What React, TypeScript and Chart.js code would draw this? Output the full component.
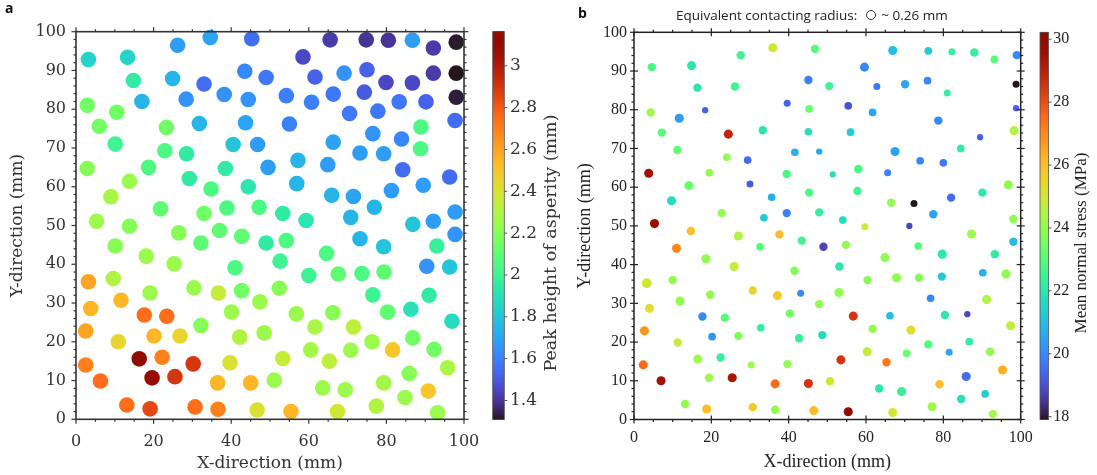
import React, { useEffect, useRef } from "react";
import { Chart, registerables } from "chart.js";
Chart.register(...registerables);

// ---------- axis ticks ----------
const xTickValues = [0, 20, 40, 60, 80, 100];
const yTickValues = [0, 10, 20, 30, 40, 50, 60, 70, 80, 90, 100];
const heightTickValues = [1.4, 1.6, 1.8, 2, 2.2, 2.4, 2.6, 2.8, 3];
const stressTickValues = [18, 20, 22, 24, 26, 28, 30];
const heightRange = [1.31, 3.163];
const stressRange = [17.91, 30.22];

// ---------- panel a: peak height of asperity ----------
const leftX = [
  3.2, 13.3, 26.2, 34.6, 45.3, 14.8, 24.9, 33, 43.5, 49, 17, 28.4, 38.2, 44.4, 2.9, 10.5, 6, 23.3, 31.8, 43.7,
  10.1, 22.9, 28.5, 40.5, 46.8, 49.5, 2.9, 18.7, 38.5, 13.8, 29.2, 44.4, 9, 34.8, 21.8, 33, 38.9, 47.2, 5.3, 13.8,
  26.5, 37, 42.7, 32.2, 49, 10.1, 18.1, 25.3, 41, 3.2, 9.6, 30.4, 36.7, 42.7, 47.4, 3.8, 11.6, 19.1, 40.1, 17.6,
  23.4, 32.2, 2.5, 10.9, 20.1, 26.8, 42.2, 48.5, 16.3, 22.2, 30.2, 39.7, 2.5, 19.6, 25.5, 6.3, 36.5, 45, 13.1, 19.1,
  30.7, 36.6, 46.7,
  65.5, 74.8, 80.5, 86.7, 92.1, 98, 58.5, 61.6, 69.1, 75, 79.9, 86.7, 92.1, 98, 54.2, 60.7, 66.3, 74.3, 83.3, 90.2,
  98, 70.5, 77.8, 55, 88.9, 97.7, 66.3, 76.5, 83.9, 88.8, 73.2, 79.3, 57.2, 64.9, 84.2, 96.3, 56.9, 89.5, 65.9, 71.5,
  81.3, 53.3, 59.3, 76.9, 70.8, 86.8, 92.1, 97.7, 97.7,
  54.2, 73.2, 79.3, 93, 64.6, 52.6, 90.4, 96.3, 60, 67.6, 73.7, 79.4, 52.4, 76.5, 91, 80.3, 86.3, 96.9, 56.8, 66.2,
  61.6, 71.5, 76.3, 81.6, 86.8, 92.3, 53.3, 60.5, 65.3, 70.8, 95.8, 51.1, 63.6, 69.4, 79.3, 85.9, 90.8, 84.8, 55.4, 67.4,
  77.4, 93.2,
];
const leftY = [
  92.8, 93.4, 96.5, 98.5, 98.2, 87.4, 87.9, 86.5, 89.8, 88.2, 82, 82.6, 83.8, 82.5, 81, 79.2, 75.6, 75.3, 76.3, 76.5,
  71, 69.3, 68.5, 70.9, 70.9, 65, 64.7, 65, 64.7, 61.4, 62.1, 60, 57.4, 59.4, 54.3, 53.1, 54.5, 54.7, 51.1, 49.8,
  48.1, 48.7, 47.2, 45.5, 45.5, 44.7, 42.1, 40.1, 39.1, 35.5, 36.3, 33.9, 32.6, 33.2, 30.3, 28.6, 30.7, 32.6, 27.7, 26.9,
  26.6, 24.2, 22.8, 20, 21.5, 21.5, 21.2, 22.3, 15.6, 16, 14.3, 14.6, 14, 10.7, 11, 9.9, 9.4, 9.4, 3.7, 2.7,
  3.2, 2.6, 2.4,
  97.9, 97.9, 97.8, 97.8, 95.8, 97.3, 93.5, 88.3, 89.3, 90.2, 86.9, 86.8, 89.3, 89.3, 83.5, 81.8, 83.9, 84.4, 81.9, 81.9,
  83.1, 78.9, 79.5, 76.2, 75.4, 77.1, 71.5, 73.7, 72.3, 69.8, 68.7, 68.5, 66.8, 65.7, 64.4, 62.5, 60.8, 60.4, 57.8, 57.5,
  59, 53.1, 51.3, 54.7, 52.1, 50.3, 51.1, 53.5, 47.7,
  46.1, 46.6, 44.5, 44.7, 42.8, 40.8, 39.5, 39.3, 37.1, 37.5, 37.6, 38, 33.8, 32.1, 32, 27.7, 28.4, 25.3, 27.2, 27.5,
  23.8, 23.8, 20, 17.9, 21, 18, 15.7, 17.9, 15, 17.8, 13.3, 10.1, 8.1, 7.6, 9.4, 11.8, 7.3, 5.6, 2, 2,
  3.4, 1.7,
];
const leftHeight = [
  1.85, 1.85, 1.68, 1.7, 1.55, 1.95, 1.75, 1.55, 1.62, 1.58, 1.75, 1.65, 1.65, 1.65, 2.15, 2.15, 2.15, 2.15, 1.75, 1.7,
  2.0, 2.05, 1.95, 1.8, 1.68, 1.68, 2.2, 2.05, 1.95, 2.25, 1.95, 1.92, 2.28, 2.05, 2.1, 2.15, 2.05, 2.05, 2.25, 2.2,
  2.2, 2.1, 2.1, 2.1, 1.95, 2.2, 2.25, 2.25, 2.05, 2.6, 2.3, 2.25, 2.35, 2.15, 2.25, 2.55, 2.55, 2.25, 2.25, 2.75,
  2.75, 2.2, 2.6, 2.45, 2.55, 2.45, 2.3, 2.25, 3.15, 2.7, 2.9, 2.4, 2.7, 3.1, 2.9, 2.75, 2.55, 2.55, 2.75, 2.85,
  2.75, 2.7, 2.4,
  1.42, 1.4, 1.4, 1.68, 1.42, 1.32, 1.45, 1.52, 1.65, 1.52, 1.45, 1.45, 1.42, 1.3, 1.6, 1.6, 1.58, 1.5, 1.58, 1.52,
  1.33, 1.58, 1.58, 1.6, 2.05, 1.55, 1.7, 1.65, 1.62, 2.05, 1.68, 1.68, 1.75, 1.68, 1.55, 1.55, 1.75, 1.68, 1.75, 1.7,
  1.68, 1.95, 1.92, 1.75, 1.75, 1.8, 1.68, 1.68, 1.65,
  2.05, 1.75, 1.8, 1.98, 2.05, 2.0, 1.65, 1.8, 2.0, 2.1, 2.05, 2.1, 2.2, 2.0, 1.95, 2.1, 1.9, 1.88, 2.25, 2.2,
  2.28, 2.33, 2.25, 2.5, 2.15, 2.15, 2.35, 2.27, 2.33, 2.25, 2.28, 2.25, 2.25, 2.25, 2.27, 2.2, 2.5, 2.25, 2.55, 2.38,
  2.3, 2.25,
];

// ---------- panel b: mean normal stress ----------
const rightX = [
  35.9, 46.8, 27.6, 4.6, 14.9, 16.4, 26.1, 45.1, 50.5, 39.6, 45.3, 4.3, 11.7, 18.4, 7.2, 24.4, 33.3, 45.1, 11.2, 24,
  29.4, 41.6, 47.9, 3.8, 19.5, 39.5, 30, 14.2, 45.3, 9.7, 35.6, 22.7, 33.6, 39.5, 47.9, 5.3,
  66.9, 76.1, 82.2, 88, 93.2, 99, 59.6, 62.8, 70.1, 75.9, 81, 98.8, 55.4, 61.7, 98.8, 78.7, 56, 98.3, 89.5, 67.5,
  84.5, 74, 80, 51.4, 58, 65.6, 57.8, 66.5, 72.4, 82, 90.1, 96.8, 54, 59.7, 71.2, 77.4, 98.1,
  14.7, 27, 37.6, 43.4, 32.6, 49, 11, 18.6, 25.9, 41.5, 3.3, 10, 30.7, 37.1, 43.1, 11.9, 19.7, 47.9, 4, 40.3,
  17.7, 23.5, 32.8, 2.7, 11.3, 20.2, 27, 42.7, 48.7, 16.5, 22.4, 30.3, 39.7, 2.4, 7, 19.4, 25.4, 36.5, 45.1, 50.7,
  13.2, 18.8, 30.7, 36.5, 46.5,
  87.3, 98.1, 54.8, 73.5, 79.7, 93.3, 64.9, 53.1, 60.4, 67.9, 73.7, 79.6, 90.2, 96.2, 53, 76.7, 91.2, 56.7, 66.2, 80.4,
  86.2, 97.4, 61.7, 71.6, 76.1, 81.5, 86.7, 92.1, 60.3, 70.5, 53.5, 65.3, 85.9, 95.3, 63.4, 69.2, 79, 84.6, 90.8, 55.4,
  66.9, 77.1, 92.8,
];
const rightY = [
  96, 95.7, 94.1, 91, 91.4, 85.7, 86, 87.7, 86.1, 81.7, 80.2, 79.3, 77.8, 79.9, 74.1, 73.7, 74.7, 74.3, 69.6, 67.7,
  67, 69, 69.2, 63.6, 63.7, 63.4, 60.8, 60.4, 58.6, 56.5, 57.4, 53.3, 52.1, 53.3, 53.5, 50.6,
  95.3, 95.2, 95, 94.8, 93, 94.1, 91, 86, 86.6, 87.5, 84.3, 86.6, 81, 79.3, 80.4, 77.2, 74.2, 74.6, 72.9, 69.2,
  70, 66.8, 66.3, 63.3, 64.7, 63.7, 59, 56, 55.8, 57.3, 58.6, 60.6, 51.5, 49.8, 50, 53, 51.8,
  48.7, 47.4, 47.8, 46.2, 44.6, 44.6, 44.2, 41.5, 39.5, 38.4, 35.2, 36, 33.3, 32, 32.6, 30.6, 32.2, 29.8, 28.7, 27.4,
  26.6, 26.3, 23.7, 22.9, 19.9, 21.4, 21.6, 21, 21.8, 15.6, 16, 14.1, 14.3, 14.1, 10, 10.8, 10.8, 9.2, 9.3, 9.9,
  4, 2.7, 3.2, 2.5, 2.3,
  47.9, 45.9, 45.1, 44.8, 42.7, 42.7, 41.8, 39.5, 36, 36.6, 36.6, 36.9, 37.9, 37.6, 32.8, 31.3, 31, 26.7, 26.8, 27,
  27.2, 24.2, 23.4, 23.1, 19.4, 17.4, 20.1, 17.5, 17.5, 17.1, 15.4, 14.8, 11.1, 12.8, 8, 7.2, 9.1, 5.3, 6.6, 2,
  1.8, 3.3, 1.4,
];
const rightStress = [
  25, 23, 22.5, 22.8, 22, 22, 22.5, 19.8, 22.5, 19.3, 23.3, 24.3, 20.3, 19.3, 23, 28.8, 22, 21.8, 23.2, 24,
  19.5, 20.8, 20.5, 29.5, 24, 22.8, 19.2, 23.3, 22.8, 21.7, 20.6, 24, 21.3, 19.8, 22.3, 29.6,
  21, 21.3, 22.3, 22.3, 23, 20, 20, 19.7, 20.5, 20, 22.3, 17.8, 19, 20.5, 19.3, 20, 21.3, 24.5, 19.3, 20.5,
  22.2, 20, 19.7, 21.8, 22.8, 19.8, 22.6, 24, 17.8, 19.5, 22, 24, 21.7, 25, 18.8, 20.5, 24,
  26, 24.5, 26, 22.5, 23, 18.8, 27, 24, 24.8, 23.8, 25, 24, 25.5, 25.7, 20, 24, 24, 24, 25.3, 23.5,
  20, 23, 22.3, 26.8, 24.8, 20.2, 23.8, 22.3, 21.7, 24.2, 22.3, 24.2, 24, 27.5, 29.5, 24.2, 29.3, 27.5, 28.5, 25,
  24, 26, 25.7, 24, 26,
  24.2, 21, 24, 23, 22, 22.2, 24, 22, 23.8, 24, 23.8, 21.3, 20.7, 24, 24, 20, 24.5, 28.5, 21, 22,
  18.8, 24.8, 24, 25.3, 23, 20.5, 22.3, 24, 24.8, 23.3, 28.5, 27.3, 19.5, 26.3, 22, 22.3, 26, 21.8, 21.3, 30,
  25, 24.2, 24.3,
];
// equivalent contacting radius (mm)
const rightRadius = [
  0.26, 0.24, 0.24, 0.24, 0.26, 0.24, 0.24, 0.24, 0.24, 0.2, 0.22, 0.24, 0.26, 0.18, 0.24, 0.26, 0.24, 0.22, 0.24, 0.22,
  0.22, 0.22, 0.18, 0.26, 0.22, 0.24, 0.2, 0.26, 0.24, 0.26, 0.22, 0.24, 0.22, 0.24, 0.24, 0.26,
  0.26, 0.22, 0.2, 0.24, 0.22, 0.24, 0.26, 0.2, 0.24, 0.22, 0.2, 0.2, 0.22, 0.22, 0.18, 0.24, 0.22, 0.26, 0.18, 0.26,
  0.22, 0.22, 0.22, 0.18, 0.24, 0.2, 0.24, 0.24, 0.2, 0.24, 0.24, 0.26, 0.22, 0.2, 0.18, 0.24, 0.24,
  0.24, 0.26, 0.24, 0.24, 0.22, 0.24, 0.26, 0.26, 0.26, 0.24, 0.28, 0.24, 0.24, 0.26, 0.2, 0.26, 0.24, 0.24, 0.26, 0.24,
  0.24, 0.24, 0.22, 0.26, 0.24, 0.22, 0.24, 0.24, 0.24, 0.26, 0.24, 0.2, 0.24, 0.26, 0.26, 0.24, 0.26, 0.26, 0.26, 0.24,
  0.24, 0.26, 0.24, 0.24, 0.26,
  0.26, 0.24, 0.24, 0.22, 0.26, 0.24, 0.26, 0.24, 0.24, 0.26, 0.24, 0.24, 0.22, 0.26, 0.26, 0.22, 0.26, 0.26, 0.22, 0.24,
  0.18, 0.26, 0.24, 0.26, 0.24, 0.2, 0.22, 0.24, 0.26, 0.22, 0.26, 0.24, 0.26, 0.26, 0.24, 0.26, 0.24, 0.24, 0.22, 0.26,
  0.26, 0.26, 0.24,
];

// ---------- colormap (turbo) ----------
function turbo(t: number): string {
  const x = Math.min(1, Math.max(0, t));
  const r = 0.13572138 + x * (4.6153926 + x * (-42.66032258 + x * (132.13108234 + x * (-152.94239396 + x * 59.28637943))));
  const g = 0.09140261 + x * (2.19418839 + x * (4.84296658 + x * (-14.18503333 + x * (4.27729857 + x * 2.82956604))));
  const b = 0.1066733 + x * (12.64194608 + x * (-60.58204836 + x * (110.36276771 + x * (-89.90310912 + x * 27.34824973))));
  const c = (v: number) => Math.round(255 * Math.min(1, Math.max(0, v)));
  return `rgb(${c(r)},${c(g)},${c(b)})`;
}

type Panel = {
  key: string;
  xs: number[];
  ys: number[];
  vals: number[];
  radii: number[];
  range: number[];
  cbTicks: number[];
  cbTitle: string;
  font: string;
  tickSize: number;
  titleSize: number;
  cbLabelSize: number;
  cbTitleSize: number;
  color: string;
  padLeft: number;
  padRight: number;
  padTop: number;
  yWidth: number;
  xHeight: number;
  cbWidth: number;
  xTickPad: number;
  yTickPad: number;
  cbTickPad: number;
  xTitlePad: number;
  yTitlePad: number;
  barOffset: number;
  barWidth: number;
  cbTitleX: number;
  cbTitleY: number;
  majorOut: number;
  majorIn: number;
  minorOut: number;
  axisWidth: number;
};

function decorPlugin(p: Panel) {
  return {
    id: "decor_" + p.key,
    afterDraw(chart: any) {
      const { ctx, chartArea: a, scales } = chart;
      const xs = scales.x;
      const ys = scales.y;
      const cb = scales.cb;
      ctx.save();
      ctx.strokeStyle = p.color;
      const line = (x1: number, y1: number, x2: number, y2: number) => {
        ctx.beginPath();
        ctx.moveTo(x1, y1);
        ctx.lineTo(x2, y2);
        ctx.stroke();
      };
      ctx.lineWidth = 1.2;
      for (let v = 0; v <= 100; v += 5) {
        const major = v % 20 === 0;
        const px = xs.getPixelForValue(v);
        const out = major ? p.majorOut : p.minorOut;
        const inn = major ? p.majorIn : 0;
        line(px, a.bottom - inn, px, a.bottom + out);
        line(px, a.top + inn, px, a.top - out);
      }
      for (let v = 0; v <= 100; v += 2) {
        const major = v % 10 === 0;
        const py = ys.getPixelForValue(v);
        const out = major ? p.majorOut : p.minorOut;
        const inn = major ? p.majorIn : 0;
        line(a.left + inn, py, a.left - out, py);
        line(a.right - inn, py, a.right + out, py);
      }
      ctx.lineWidth = p.axisWidth;
      ctx.strokeRect(a.left, a.top, a.right - a.left, a.bottom - a.top);

      // colour bar
      const bx = cb.left + p.barOffset;
      const bw = p.barWidth;
      const lo = p.range[0];
      const hi = p.range[1];
      for (let py = Math.floor(cb.top); py < Math.ceil(cb.bottom); py++) {
        const v = cb.getValueForPixel(py + 0.5);
        ctx.fillStyle = turbo((v - lo) / (hi - lo));
        ctx.fillRect(bx, py, bw, 1);
      }
      ctx.lineWidth = 0.8;
      ctx.strokeStyle = "#555";
      ctx.strokeRect(bx, cb.top, bw, cb.bottom - cb.top);
      ctx.lineWidth = 1;
      cb.ticks.forEach((t: any) => {
        const py = cb.getPixelForValue(t.value);
        line(bx + bw, py, bx + bw + 3, py);
      });

      ctx.translate(p.cbTitleX, p.cbTitleY);
      ctx.rotate(-Math.PI / 2);
      ctx.font = `${p.cbTitleSize}px ${p.font}`;
      ctx.fillStyle = p.color;
      ctx.textAlign = "center";
      ctx.textBaseline = "middle";
      ctx.fillText(p.cbTitle, 0, 0);
      ctx.restore();
    },
  };
}

const noPad = (s: any) => {
  s.paddingTop = 0;
  s.paddingBottom = 0;
};

function makeConfig(p: Panel): any {
  const lo = p.range[0];
  const hi = p.range[1];
  const fmt = (v: number) => String(Math.round(v * 10) / 10);
  return {
    type: "scatter",
    data: {
      datasets: [
        {
          data: p.xs.map((x, i) => ({ x, y: p.ys[i] })),
          backgroundColor: p.vals.map((v) => turbo((v - lo) / (hi - lo))),
          pointRadius: p.radii,
          pointHoverRadius: p.radii,
          borderWidth: 0,
          clip: false,
        },
      ],
    },
    options: {
      responsive: false,
      animation: false,
      events: [],
      layout: { padding: { left: p.padLeft, right: p.padRight, top: p.padTop, bottom: 0 } },
      plugins: { legend: { display: false }, tooltip: { enabled: false } },
      scales: {
        x: {
          type: "linear",
          position: "bottom",
          min: 0,
          max: 100,
          afterBuildTicks: (s: any) => {
            s.ticks = xTickValues.map((v) => ({ value: v }));
          },
          afterFit: (s: any) => {
            s.height = p.xHeight;
            s.paddingLeft = 0;
            s.paddingRight = 0;
          },
          grid: { display: false, drawTicks: false },
          border: { display: false },
          ticks: {
            padding: p.xTickPad,
            maxRotation: 0,
            autoSkip: false,
            color: p.color,
            font: { family: p.font, size: p.tickSize },
            callback: (v: any) => fmt(Number(v)),
          },
          title: {
            display: true,
            text: "X-direction (mm)",
            color: p.color,
            font: { family: p.font, size: p.titleSize },
            padding: { top: 0, bottom: p.xTitlePad },
          },
        },
        y: {
          type: "linear",
          position: "left",
          min: 0,
          max: 100,
          afterBuildTicks: (s: any) => {
            s.ticks = yTickValues.map((v) => ({ value: v }));
          },
          afterFit: (s: any) => {
            s.width = p.yWidth;
            noPad(s);
          },
          grid: { display: false, drawTicks: false },
          border: { display: false },
          ticks: {
            padding: p.yTickPad,
            autoSkip: false,
            color: p.color,
            font: { family: p.font, size: p.tickSize },
            callback: (v: any) => fmt(Number(v)),
          },
          title: {
            display: true,
            text: "Y-direction (mm)",
            color: p.color,
            font: { family: p.font, size: p.titleSize },
            padding: { top: p.yTitlePad, bottom: 0 },
          },
        },
        cb: {
          type: "linear",
          position: "right",
          min: lo,
          max: hi,
          afterBuildTicks: (s: any) => {
            s.ticks = p.cbTicks.map((v) => ({ value: v }));
          },
          afterFit: (s: any) => {
            s.width = p.cbWidth;
            noPad(s);
          },
          grid: { display: false, drawTicks: false },
          border: { display: false },
          ticks: {
            padding: p.cbTickPad,
            autoSkip: false,
            color: p.color,
            font: { family: p.font, size: p.cbLabelSize },
            callback: (v: any) => fmt(Number(v)),
          },
        },
      },
    },
    plugins: [decorPlugin(p)],
  };
}

const panelA: Panel = {
  key: "a",
  xs: leftX,
  ys: leftY,
  vals: leftHeight,
  radii: leftX.map(() => 7.8),
  range: heightRange,
  cbTicks: heightTickValues,
  cbTitle: "Peak height of asperity (mm)",
  font: "'DejaVu Serif', serif",
  tickSize: 16,
  titleSize: 17,
  cbLabelSize: 17,
  cbTitleSize: 17.5,
  color: "#333333",
  padLeft: 0,
  padRight: 1097 - 464 - 100,
  padTop: 31.7,
  yWidth: 76,
  xHeight: 475 - 419.3,
  cbWidth: 100,
  xTickPad: 13,
  yTickPad: 10,
  cbTickPad: 46,
  xTitlePad: 1.2,
  yTitlePad: 7,
  barOffset: 28.7,
  barWidth: 11.6,
  cbTitleX: 551,
  cbTitleY: 243,
  majorOut: 4.5,
  majorIn: 0,
  minorOut: 2.5,
  axisWidth: 1.6,
};

const panelB: Panel = {
  key: "b",
  xs: rightX,
  ys: rightY,
  vals: rightStress,
  radii: rightRadius.map((r) => r * 17.5),
  range: stressRange,
  cbTicks: stressTickValues,
  cbTitle: "Mean normal stress (MPa)",
  font: "'Liberation Serif', serif",
  tickSize: 16,
  titleSize: 18,
  cbLabelSize: 16,
  cbTitleSize: 17,
  color: "#222222",
  padLeft: 560,
  padRight: 0,
  padTop: 32.3,
  yWidth: 74,
  xHeight: 475 - 419.5,
  cbWidth: 1097 - 1020.7,
  xTickPad: 8.5,
  yTickPad: 7,
  cbTickPad: 32.6,
  xTitlePad: 1.8,
  yTitlePad: 14.8,
  barOffset: 19.3,
  barWidth: 8.5,
  cbTitleX: 1082,
  cbTitleY: 243,
  majorOut: 4,
  majorIn: 4,
  minorOut: 2.5,
  axisWidth: 1.5,
};

export default function App() {
  const refA = useRef<HTMLCanvasElement | null>(null);
  const refB = useRef<HTMLCanvasElement | null>(null);

  useEffect(() => {
    const ca = new Chart(refA.current as HTMLCanvasElement, makeConfig(panelA));
    const cbc = new Chart(refB.current as HTMLCanvasElement, makeConfig(panelB));
    return () => {
      ca.destroy();
      cbc.destroy();
    };
  }, []);

  const canvasStyle: React.CSSProperties = { position: "absolute", left: 0, top: 0, width: 1097, height: 475 };
  return (
    <div style={{ position: "absolute", left: 0, top: 0, width: 1097, height: 475, background: "#fff", overflow: "hidden" }}>
      <canvas ref={refA} width={1097} height={475} style={canvasStyle} />
      <canvas ref={refB} width={1097} height={475} style={canvasStyle} />
      <div style={{ position: "absolute", left: 5, top: 0, font: "bold 14px 'Open Sans', sans-serif", color: "#111", lineHeight: "16px" }}>a</div>
      <div style={{ position: "absolute", left: 578, top: 5, font: "bold 14px 'Open Sans', sans-serif", color: "#111", lineHeight: "16px" }}>b</div>
      <div
        style={{
          position: "absolute",
          left: 676,
          top: 6,
          font: "13.5px 'Open Sans', sans-serif",
          color: "#222",
          lineHeight: "18px",
          whiteSpace: "nowrap",
          display: "flex",
          alignItems: "center",
        }}
      >
        <span>Equivalent contacting radius:</span>
        <span
          style={{
            display: "inline-block",
            width: 8,
            height: 8,
            border: "1px solid #333",
            borderRadius: "50%",
            margin: "0 5px 0 9px",
          }}
        />
        <span>~ 0.26 mm</span>
      </div>
    </div>
  );
}
